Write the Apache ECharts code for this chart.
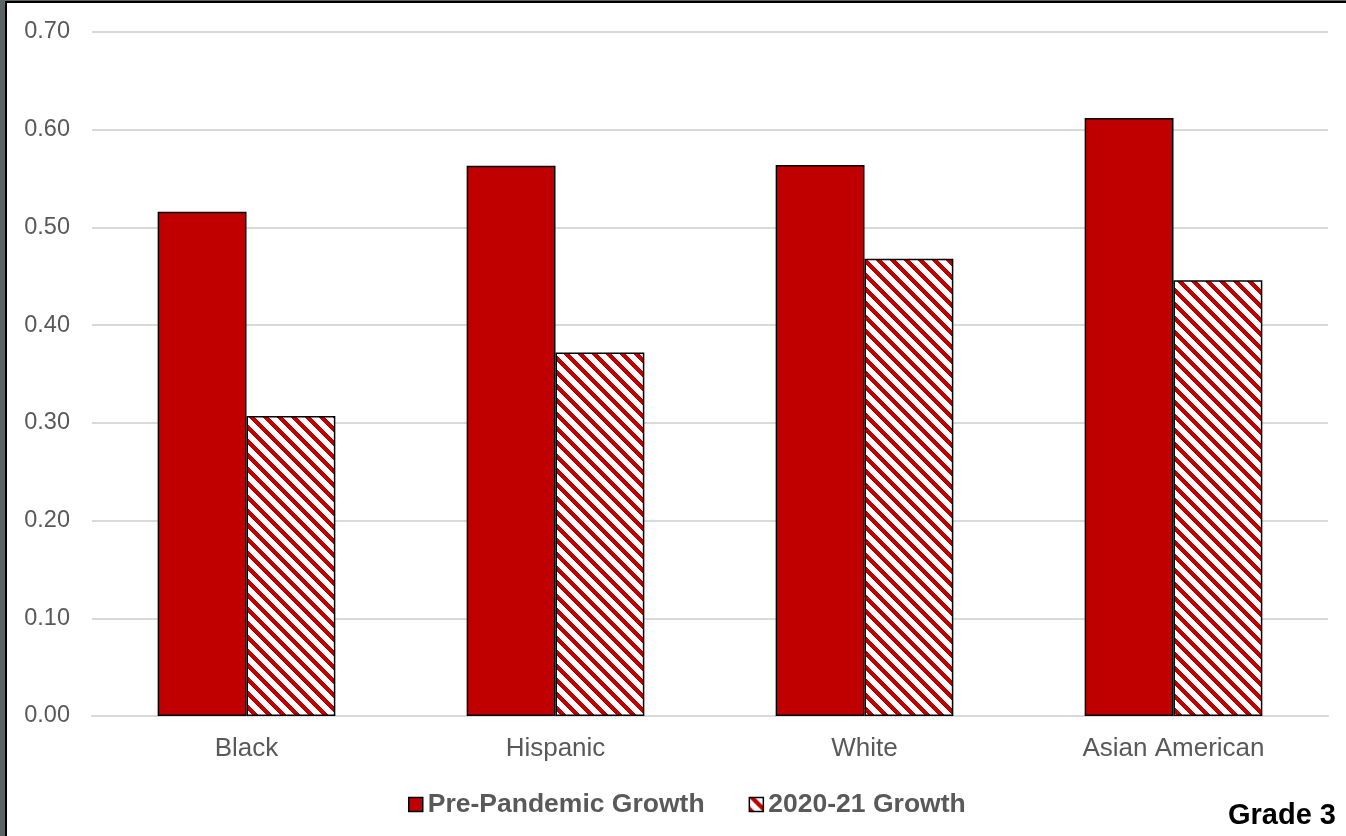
<!DOCTYPE html>
<html>
<head>
<meta charset="utf-8">
<title>Grade 3 Growth</title>
<script src="https://cdn.jsdelivr.net/npm/echarts@6/dist/echarts.min.js"></script>
<style>
  html, body { margin: 0; padding: 0; background: #ffffff; }
  #chart { width: 1346px; height: 836px; }
</style>
</head>
<body>
<div id="chart"></div>
<script>
// Student groups shown on the x axis
const categories = ['Black', 'Hispanic', 'White', 'Asian American'];
// Average growth per group
const prePandemicGrowth = [0.516, 0.563, 0.564, 0.612];
const growth2021 = [0.307, 0.372, 0.468, 0.446];
const seriesNames = ['Pre-Pandemic Growth', '2020-21 Growth'];
const yTicks = { min: 0, max: 0.7, interval: 0.1 };

const RED = '#c00000';
const TEXT_GRAY = '#595959';
const FONT = '"Liberation Sans", Arial, sans-serif';

// Diagonal red/white stripe tile for the hatched series
function makeHatch() {
  const P = 14, W = 6;
  const c = document.createElement('canvas');
  c.width = P; c.height = P;
  const ctx = c.getContext('2d');
  const img = ctx.createImageData(P, P);
  for (let y = 0; y < P; y++) {
    for (let x = 0; x < P; x++) {
      const d = (((x - y) % P) + P) % P;
      const i = (y * P + x) * 4;
      if (d < W) { img.data[i] = 192; img.data[i + 1] = 0; img.data[i + 2] = 0; }
      else { img.data[i] = 255; img.data[i + 1] = 255; img.data[i + 2] = 255; }
      img.data[i + 3] = 255;
    }
  }
  ctx.putImageData(img, 0, 0);
  return c;
}

const chart = echarts.init(document.getElementById('chart'), null, { renderer: 'canvas' });

chart.setOption({
  backgroundColor: '#ffffff',
  animation: false,
  textStyle: { fontFamily: FONT },
  grid: { left: 92, right: 18, top: 32, bottom: 120, containLabel: false },
  legend: {
    data: seriesNames,
    icon: 'rect',
    left: 403,
    top: 786,
    itemWidth: 14,
    itemHeight: 14,
    itemGap: 44,
    textStyle: { fontFamily: FONT, fontSize: 26.5, fontWeight: 'bold', color: TEXT_GRAY },
    itemStyle: { borderColor: '#000', borderWidth: 1.5 }
  },
  xAxis: {
    type: 'category',
    data: categories,
    axisTick: { show: false },
    axisLine: { lineStyle: { color: '#d9d9d9', width: 2 } },
    axisLabel: { color: TEXT_GRAY, fontSize: 26, margin: 20, fontFamily: FONT }
  },
  yAxis: {
    type: 'value',
    min: yTicks.min,
    max: yTicks.max,
    interval: yTicks.interval,
    axisLine: { show: false },
    axisTick: { show: false },
    splitLine: { lineStyle: { color: '#d9d9d9', width: 2 } },
    axisLabel: {
      color: TEXT_GRAY, fontSize: 23.5, margin: 22, fontFamily: FONT,
      formatter: v => v.toFixed(2)
    }
  },
  series: [
    {
      name: seriesNames[0],
      type: 'bar',
      data: prePandemicGrowth,
      barGap: '0%',
      barCategoryGap: '42.5%',
      itemStyle: { color: RED, borderColor: '#000', borderWidth: 1.5 }
    },
    {
      name: seriesNames[1],
      type: 'bar',
      data: growth2021,
      barGap: '0%',
      barCategoryGap: '42.5%',
      itemStyle: {
        color: { image: makeHatch(), repeat: 'repeat' },
        borderColor: '#000',
        borderWidth: 1.5
      }
    }
  ],
  graphic: [
    { type: 'rect', left: 0, top: 0, shape: { width: 5, height: 836 }, style: { fill: '#5b6566' }, silent: true },
    { type: 'rect', left: 5, top: 0, shape: { width: 2, height: 836 }, style: { fill: '#000000' }, silent: true },
    { type: 'rect', left: 5, top: 0, shape: { width: 1341, height: 1 }, style: { fill: '#5b6566' }, silent: true },
    { type: 'rect', left: 5, top: 1, shape: { width: 1341, height: 2 }, style: { fill: '#000000' }, silent: true },
    {
      type: 'text', right: 10, top: 801,
      style: { text: 'Grade 3', fontFamily: FONT, fontSize: 29, fontWeight: 'bold', fill: '#000000' }
    }
  ]
});
</script>
</body>
</html>
